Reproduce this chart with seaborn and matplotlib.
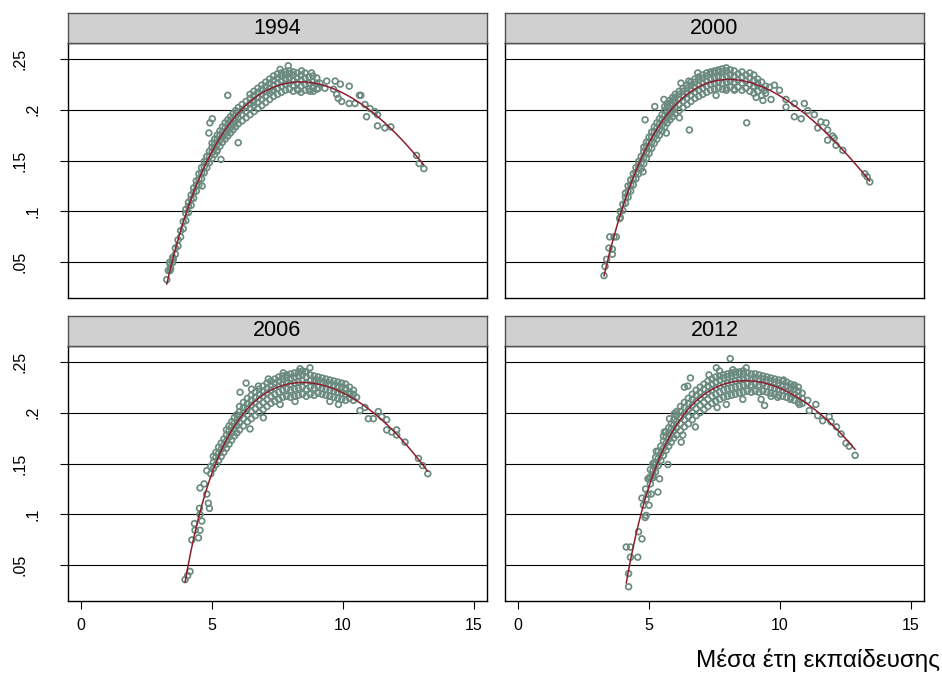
import itertools
import numpy as np
import pandas as pd
import matplotlib
matplotlib.use("Agg")
import matplotlib.pyplot as plt
import matplotlib.transforms as mtransforms
import seaborn as sns

# ---------------------------------------------------------------------------
# Data: mean years of schooling (x) against the share (y), one panel per year.
# Dense part of each cloud is stored row-wise: (schooling, [shares at it]);
# isolated markers are stored as (schooling, share) pairs.
# ---------------------------------------------------------------------------
years = ["1994", "2000", "2006", "2012"]

band_1994 = [
    (3.40, [.042, .048]), (3.50, [.050, .055]), (3.60, [.058, .064]),
    (3.70, [.066, .072]), (3.80, [.075, .081]), (3.90, [.083, .090]),
    (4.00, [.091, .098, .102]), (4.10, [.099, .105, .109]),
    (4.20, [.106, .112, .116]), (4.30, [.113, .119, .123]),
    (4.40, [.120, .126, .130]), (4.50, [.126, .132, .137]),
    (4.60, [.132, .138, .143]), (4.70, [.138, .144, .149]),
    (4.80, [.143, .149, .154]), (4.90, [.148, .154, .159]),
    (5.00, [.152, .158, .163, .167]), (5.10, [.156, .162, .167, .171]),
    (5.20, [.160, .166, .171, .175]), (5.30, [.164, .170, .175, .179]),
    (5.40, [.168, .174, .178, .183]), (5.50, [.171, .177, .182, .187]),
    (5.60, [.174, .180, .185, .190]), (5.70, [.177, .183, .188, .193]),
    (5.80, [.180, .186, .191, .196]), (5.90, [.183, .189, .194, .199]),
    (6.00, [.186, .192, .197, .202]), (6.15, [.189, .195, .200, .205]),
    (6.30, [.192, .198, .203, .208]), (6.45, [.195, .201, .206, .211, .215]),
    (6.60, [.198, .204, .209, .214, .218]), (6.75, [.201, .207, .212, .217, .221]),
    (6.90, [.204, .210, .215, .220, .224]), (7.05, [.207, .213, .218, .223, .227]),
    (7.20, [.210, .216, .221, .226, .230]), (7.35, [.213, .219, .224, .229, .233]),
    (7.50, [.215, .221, .226, .231, .235]), (7.65, [.217, .223, .228, .233, .236]),
    (7.80, [.219, .225, .230, .234, .237]), (7.95, [.220, .226, .231, .235, .238]),
    (8.10, [.218, .224, .229, .234, .237]), (8.25, [.220, .226, .231, .236]),
    (8.40, [.217, .223, .229, .234]), (8.55, [.219, .225, .231, .236]),
    (8.70, [.220, .226, .232]), (8.85, [.221, .227, .233]),
    (9.00, [.220, .226, .231]),
]
loose_1994 = [
    (3.27, .033), (3.33, .042), (3.38, .050), (3.42, .044), (3.52, .053),
    (4.62, .125), (5.60, .214), (5.01, .191), (4.92, .187), (4.88, .177),
    (5.18, .159), (5.34, .151), (6.00, .1675), (7.91, .243), (7.60, .2395),
    (8.80, .236), (8.42, .238), (8.29, .219), (8.87, .218), (7.28, .218),
    (6.58, .207), (9.31, .221), (9.38, .228), (9.70, .228), (9.90, .225),
    (9.64, .220), (9.76, .215), (9.82, .211), (9.95, .208), (10.24, .223),
    (10.24, .206), (10.63, .214), (10.68, .214), (10.46, .206), (10.84, .205),
    (10.90, .193), (11.03, .201), (11.22, .198), (11.32, .195), (11.32, .184),
    (11.60, .182), (11.83, .183), (9.12, .226), (9.06, .221), (8.74, .218),
    (8.87, .223), (12.81, .155), (12.91, .147), (13.09, .142),
]

band_2000 = [
    (3.90, [.094, .100]), (4.00, [.101, .107]), (4.10, [.108, .114, .118]),
    (4.20, [.114, .120, .125]), (4.30, [.120, .126, .131]),
    (4.40, [.126, .132, .137]), (4.50, [.132, .138, .143]),
    (4.60, [.137, .143, .149]), (4.70, [.142, .148, .154]),
    (4.80, [.147, .153, .159, .163]), (4.90, [.152, .158, .164, .168]),
    (5.00, [.157, .163, .168, .173]), (5.10, [.162, .168, .173, .178]),
    (5.20, [.167, .173, .178, .183]), (5.30, [.171, .177, .182, .187]),
    (5.40, [.175, .181, .186, .191]), (5.50, [.179, .185, .190, .195]),
    (5.60, [.183, .189, .194, .199, .203]), (5.70, [.187, .193, .198, .203, .206]),
    (5.80, [.190, .196, .201, .206, .209]), (5.90, [.193, .199, .204, .209, .212]),
    (6.00, [.196, .202, .207, .212, .215]), (6.15, [.199, .205, .210, .215, .218]),
    (6.30, [.202, .208, .213, .218, .221]), (6.45, [.205, .211, .216, .221, .224]),
    (6.60, [.208, .214, .219, .224, .227]), (6.75, [.211, .217, .222, .227, .230]),
    (6.90, [.213, .219, .224, .229, .232]), (7.05, [.215, .221, .226, .231, .234]),
    (7.20, [.217, .223, .228, .233, .236]), (7.35, [.219, .225, .230, .235, .237]),
    (7.50, [.220, .226, .231, .236, .238]), (7.65, [.221, .227, .232, .237, .239]),
    (7.80, [.220, .226, .232, .237, .240]), (7.95, [.221, .227, .233, .238, .241]),
    (8.10, [.222, .228, .234, .239]), (8.25, [.220, .227, .233, .238]),
    (8.40, [.222, .229, .235]), (8.55, [.219, .226, .232, .237]),
    (8.70, [.221, .228, .234]), (8.85, [.218, .225, .231, .236]),
    (9.00, [.216, .223, .229, .234]), (9.15, [.218, .224, .230]),
    (9.30, [.214, .221, .227]), (9.45, [.216, .223]),
]
loose_2000 = [
    (3.28, .037), (3.32, .046), (3.38, .053), (3.47, .064), (3.50, .075),
    (3.66, .075), (3.75, .075), (3.60, .063), (3.60, .058), (3.88, .093),
    (4.77, .139), (4.85, .190), (5.22, .203), (5.57, .210), (6.22, .226),
    (6.52, .228), (6.86, .236), (6.54, .180), (6.16, .192), (5.66, .177),
    (8.73, .187), (7.56, .214), (8.26, .219), (7.95, .219), (9.09, .212),
    (9.35, .209), (9.66, .210), (9.79, .224), (9.15, .226), (9.41, .219),
    (9.60, .222), (9.98, .219), (10.23, .210), (10.23, .2025), (10.55, .206),
    (10.55, .193), (10.81, .191), (10.93, .206), (11.06, .199), (11.31, .195),
    (11.44, .182), (11.56, .188), (11.76, .187), (11.82, .180), (11.82, .170),
    (12.01, .174), (12.07, .172), (12.14, .165), (12.40, .160), (13.24, .137),
    (13.33, .134), (13.43, .129),
]

band_2006 = [
    (4.95, [.140, .147]), (5.05, [.145, .151, .157]), (5.15, [.149, .156, .161]),
    (5.25, [.153, .160, .166]), (5.35, [.157, .164, .170]),
    (5.45, [.161, .168, .174]), (5.55, [.165, .172, .178, .183]),
    (5.65, [.169, .176, .182, .187]), (5.75, [.173, .180, .186, .191]),
    (5.85, [.177, .184, .190, .195]), (5.95, [.180, .187, .193, .198]),
    (6.05, [.183, .190, .196, .201, .206]), (6.20, [.187, .194, .200, .205, .210]),
    (6.35, [.191, .198, .204, .209, .214]), (6.50, [.194, .201, .207, .212, .217]),
    (6.65, [.197, .204, .210, .215, .220]), (6.80, [.200, .207, .213, .218, .223]),
    (6.95, [.203, .210, .216, .221, .226]), (7.10, [.206, .213, .219, .224, .229]),
    (7.25, [.209, .216, .222, .227, .231]), (7.40, [.211, .218, .224, .229, .233]),
    (7.55, [.213, .220, .226, .231, .235]), (7.70, [.215, .222, .228, .233, .236]),
    (7.85, [.216, .223, .229, .234, .237]), (8.00, [.215, .222, .228, .234, .238]),
    (8.15, [.216, .223, .229, .235, .239]), (8.30, [.217, .224, .230, .236, .240]),
    (8.45, [.218, .225, .231, .237, .241]), (8.60, [.216, .223, .229, .235, .240]),
    (8.75, [.218, .225, .231, .237]), (8.90, [.217, .224, .230, .236]),
    (9.05, [.219, .225, .231, .235]), (9.20, [.218, .224, .230, .234]),
    (9.35, [.217, .223, .229, .233]), (9.50, [.216, .222, .228, .232]),
    (9.65, [.215, .221, .227, .231]), (9.80, [.214, .220, .226, .230]),
    (9.95, [.213, .219, .225, .229]), (10.10, [.212, .218, .224, .228]),
    (10.25, [.214, .220, .225]), (10.40, [.212, .218, .222]),
]
loose_2006 = [
    (3.97, .036), (4.07, .040), (4.16, .044), (4.23, .075), (4.33, .091),
    (4.35, .0845), (4.48, .077), (4.54, .0845), (4.52, .106), (4.54, .100),
    (4.61, .0935), (4.54, .126), (4.70, .130), (4.80, .120), (4.86, .111),
    (4.90, .106), (4.80, .143), (6.07, .220), (6.30, .229), (6.51, .223),
    (6.77, .226), (6.96, .195), (6.45, .184), (7.15, .233), (7.72, .239),
    (8.36, .243), (8.74, .244), (8.55, .240), (8.17, .211), (7.60, .208),
    (8.93, .232), (9.25, .229), (9.50, .211), (9.83, .208), (10.08, .223),
    (10.27, .218), (10.52, .215), (10.65, .202), (10.84, .205), (10.97, .194),
    (11.16, .194), (11.35, .201), (11.48, .196), (11.67, .193), (11.67, .183),
    (11.86, .181), (12.05, .178), (12.05, .183), (12.37, .171), (12.88, .155),
    (13.04, .148), (13.24, .140),
]

band_2012 = [
    (5.05, [.130, .137, .144]), (5.15, [.136, .143, .150]),
    (5.25, [.142, .149, .156]), (5.35, [.148, .155, .162]),
    (5.45, [.153, .160, .167]), (5.55, [.158, .165, .172, .177]),
    (5.65, [.163, .170, .176, .181]), (5.75, [.167, .174, .180, .185]),
    (5.85, [.171, .178, .184, .189]), (5.95, [.175, .182, .188, .193]),
    (6.05, [.178, .185, .191, .197, .201]), (6.20, [.182, .189, .195, .201, .206]),
    (6.35, [.186, .193, .199, .205, .210]), (6.50, [.189, .196, .203, .209, .214]),
    (6.65, [.193, .200, .207, .213, .218]), (6.80, [.197, .204, .211, .217, .222]),
    (6.95, [.200, .207, .214, .220, .225]), (7.10, [.203, .210, .217, .223, .228]),
    (7.25, [.206, .213, .220, .226, .231]), (7.40, [.209, .216, .222, .228, .233]),
    (7.55, [.211, .218, .224, .230, .235]), (7.70, [.213, .220, .226, .232, .236]),
    (7.85, [.215, .222, .228, .234, .237]), (8.00, [.216, .223, .229, .235, .238]),
    (8.15, [.217, .224, .230, .236, .239]), (8.30, [.218, .225, .231, .237, .240]),
    (8.45, [.219, .226, .232, .238, .240]), (8.60, [.220, .227, .233, .238, .241]),
    (8.75, [.221, .228, .234, .239]), (8.90, [.220, .227, .233, .238]),
    (9.05, [.221, .228, .234, .238]), (9.20, [.220, .227, .233, .237]),
    (9.35, [.221, .228, .233, .236]), (9.50, [.220, .226, .232, .235]),
    (9.65, [.219, .225, .231, .234]), (9.80, [.218, .224, .230, .233]),
    (9.95, [.217, .223, .229, .232]), (10.10, [.216, .222, .227, .231]),
    (10.25, [.215, .221, .226, .230]), (10.40, [.213, .219, .224, .228]),
    (10.55, [.212, .218, .223, .227]), (10.70, [.210, .216, .221, .225]),
    (10.85, [.209, .214, .219]),
]
loose_2012 = [
    (4.22, .029), (4.22, .042), (4.13, .068), (4.29, .068), (4.29, .058),
    (4.57, .058), (4.60, .083), (4.73, .076), (4.73, .116), (4.79, .109),
    (4.85, .097), (4.89, .099), (5.00, .109), (4.89, .115), (4.96, .120),
    (5.08, .120), (4.87, .125), (4.96, .135), (5.02, .136), (5.15, .138),
    (5.34, .122), (5.40, .135), (5.21, .151), (5.28, .162), (5.59, .181),
    (5.72, .149), (5.78, .194), (5.97, .199), (6.23, .171), (6.29, .178),
    (6.35, .225), (6.48, .226), (6.58, .234), (6.77, .186), (7.29, .237),
    (7.57, .244), (7.69, .241), (7.95, .208), (7.60, .205), (8.10, .253),
    (8.20, .242), (8.58, .213), (8.71, .244), (9.28, .213), (9.41, .207),
    (9.66, .216), (9.91, .215), (10.13, .232), (10.42, .215), (10.49, .226),
    (10.74, .208), (11.06, .212), (11.12, .202), (11.37, .208), (11.44, .197),
    (11.63, .192), (11.88, .196), (11.95, .191), (12.16, .186), (12.33, .179),
    (12.52, .170), (12.64, .167), (12.87, .158),
]

x_ticks = [0, 5, 10, 15]
y_ticks = [.05, .1, .15, .2, .25]
y_tick_labels = [".05", ".1", ".15", ".2", ".25"]
x_title = "Μέσα έτη εκπαίδευσης"

bands = {"1994": band_1994, "2000": band_2000, "2006": band_2006, "2012": band_2012}
loose = {"1994": loose_1994, "2000": loose_2000, "2006": loose_2006, "2012": loose_2012}

rows = []
for yr in years:
    for xv, ys in bands[yr]:
        for yv in ys:
            rows.append((yr, xv, yv))
    for xv, yv in loose[yr]:
        rows.append((yr, xv, yv))
df = pd.DataFrame(rows, columns=["year", "educ", "share"])


# ---------------------------------------------------------------------------
# Degree-2 fractional polynomial fit (best pair of powers by least squares)
# ---------------------------------------------------------------------------
FP_POWERS = [-2, -1, -0.5, 0, 0.5, 1, 2, 3]


def _fp_term(x, p):
    return np.log(x) if p == 0 else x ** p


def _fp_design(x, p1, p2):
    t1 = _fp_term(x, p1)
    t2 = t1 * np.log(x) if p1 == p2 else _fp_term(x, p2)
    return np.column_stack([np.ones_like(x), t1, t2])


def fp2_fit(x, y):
    best = None
    for p1, p2 in itertools.combinations_with_replacement(FP_POWERS, 2):
        X = _fp_design(x, p1, p2)
        beta, *_ = np.linalg.lstsq(X, y, rcond=None)
        rss = np.sum((y - X @ beta) ** 2)
        if best is None or rss < best[0]:
            best = (rss, p1, p2, beta)
    _, p1, p2, beta = best
    return lambda xx: _fp_design(xx, p1, p2) @ beta


# ---------------------------------------------------------------------------
# Styling
# ---------------------------------------------------------------------------
sns.set_style("white")
plt.rcParams["font.family"] = ["Liberation Sans", "DejaVu Sans"]
plt.rcParams["text.color"] = "black"
plt.rcParams["xtick.color"] = "black"
plt.rcParams["ytick.color"] = "black"
plt.rcParams["axes.labelcolor"] = "black"

W, H = 942, 673
fig = plt.figure(figsize=(W / 100, H / 100), dpi=100)
fig.patch.set_facecolor("white")

marker_col = "#6b8b80"
line_col = "#8c1f2e"
strip_col = "#d0d0d0"

col_left = [68, 505]
panel_w = 419
row_top = [43, 346]
panel_h = 255
strip_h = 30


def fx(px):
    return px / W


def fy(py):
    return 1 - py / H


for i, yr in enumerate(years):
    r, c = divmod(i, 2)
    left = col_left[c]
    top = row_top[r]
    ax = fig.add_axes([fx(left), fy(top + panel_h), panel_w / W, panel_h / H])
    sub = df[df["year"] == yr]

    for yt in y_ticks:
        ax.axhline(yt, color="black", lw=0.8, zorder=0)

    sns.scatterplot(data=sub, x="educ", y="share", ax=ax, marker="o", s=17,
                    color=marker_col, facecolor="none", edgecolor=marker_col,
                    linewidth=1.25, zorder=2, legend=False)

    fit = fp2_fit(sub["educ"].to_numpy(float), sub["share"].to_numpy(float))
    grid = np.linspace(sub["educ"].min(), sub["educ"].max(), 300)
    curve = pd.DataFrame({"educ": grid, "share": fit(grid)})
    sns.lineplot(data=curve, x="educ", y="share", ax=ax, color=line_col,
                 lw=1.1, zorder=3)

    ax.set_xlim(-0.5, 15.5)
    ax.set_ylim(0.015, 0.2654)
    ax.set_xlabel("")
    ax.set_ylabel("")
    ax.set_xticks(x_ticks)
    ax.set_yticks(y_ticks)
    for sp in ax.spines.values():
        sp.set_color("black")
        sp.set_linewidth(1.0)

    ax.tick_params(axis="y", left=(c == 0), labelleft=False, length=6,
                   width=0.8, color="black", direction="out")
    ax.tick_params(axis="x", bottom=(r == 1), labelbottom=(r == 1), length=5.5,
                   width=0.8, color="black", direction="out", pad=7,
                   labelsize=11.5)

    if c == 0:
        tr = mtransforms.blended_transform_factory(fig.transFigure, ax.transData)
        for yt, lab in zip(y_ticks, y_tick_labels):
            xpos = fx(33) if len(lab) == 2 else fx(20)
            ax.text(xpos, yt, lab, transform=tr, rotation=90, ha="center",
                    va="center", fontsize=11.5)

    # strip with the year
    sax = fig.add_axes([fx(left), fy(top), panel_w / W, strip_h / H])
    sax.set_facecolor(strip_col)
    sax.set_xticks([])
    sax.set_yticks([])
    for sp in sax.spines.values():
        sp.set_color("#505050")
        sp.set_linewidth(1.0)
    sax.text(0.5, 0.5, yr, ha="center", va="center", fontsize=15.5,
             transform=sax.transAxes)

fig.text(fx(940), fy(667), x_title, ha="right", va="baseline", fontsize=17.5)

fig.savefig("out.png", dpi=100, facecolor="white")
